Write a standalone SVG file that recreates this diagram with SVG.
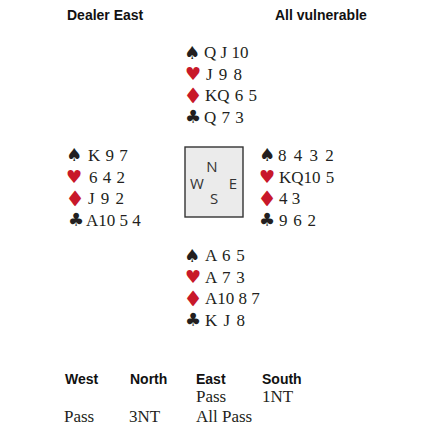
<svg xmlns="http://www.w3.org/2000/svg" width="440" height="440" viewBox="0 0 440 440">
<style>
.hd{font-family:"Liberation Sans",Arial,sans-serif;font-weight:bold;font-size:14px;fill:#111}
.c{font-family:"Liberation Serif","Times New Roman",serif;font-size:17px;fill:#231f20}
.s{font-family:"DejaVu Sans",sans-serif;font-size:18px;text-anchor:middle}
.d{stroke:#c8182a;stroke-width:1.8;stroke-linejoin:miter}
.b{fill:#231f20}
.r{fill:#c8182a}
.cp{font-family:"Open Sans","DejaVu Sans",sans-serif;font-size:15px;fill:#333;text-anchor:middle}
</style>
<rect width="440" height="440" fill="#fff"/>
<g id="header">
<text class="hd" x="67" y="20">Dealer East</text>
<text class="hd" x="275" y="20">All vulnerable</text>
</g>
<g id="north">
<text class="s b" x="192" y="58.5">♠</text><text class="c" x="204" y="58">Q J 10</text>
<text class="s r" x="193" y="80">♥</text><text class="c" x="206" y="79.5" word-spacing="2">J 9 8</text>
<text class="s d r" x="193" y="101.5">♦</text><text class="c" x="205" y="101" word-spacing="1">KQ 6 5</text>
<text class="s b" x="193" y="123">♣</text><text class="c" x="204" y="122.5" word-spacing="1">Q 7 3</text>
</g>
<g id="west">
<text class="s b" x="74" y="161">♠</text><text class="c" x="88" y="160.5" word-spacing="1">K 9 7</text>
<text class="s r" x="74" y="183">♥</text><text class="c" x="89" y="182.5" word-spacing="1">6 4 2</text>
<text class="s d r" x="75" y="204.5">♦</text><text class="c" x="88" y="204" word-spacing="2">J 9 2</text>
<text class="s b" x="76" y="226">♣</text><text class="c" x="86" y="225.5">A10 5 4</text>
</g>
<g id="compass">
<rect x="185" y="147" width="58" height="70" fill="#ebebeb" stroke="#333" stroke-width="1.4"/>
<text class="cp" x="212" y="172">N</text>
<text class="cp" x="197" y="188.5">W</text>
<text class="cp" x="233" y="188.5">E</text>
<text class="cp" x="214" y="203.5">S</text>
</g>
<g id="east">
<text class="s b" x="267" y="161">♠</text><text class="c" x="278" y="160.5" word-spacing="3">8 4 3 2</text>
<text class="s r" x="267" y="183">♥</text><text class="c" x="279" y="182.5" word-spacing="1">KQ10 5</text>
<text class="s d r" x="267" y="204.5">♦</text><text class="c" x="279" y="204">4 3</text>
<text class="s b" x="267" y="226">♣</text><text class="c" x="279" y="225.5" word-spacing="1.5">9 6 2</text>
</g>
<g id="south">
<text class="s b" x="192" y="261.5">♠</text><text class="c" x="205" y="261" word-spacing="1.5">A 6 5</text>
<text class="s r" x="193" y="283">♥</text><text class="c" x="205" y="282.5" word-spacing="1.5">A 7 3</text>
<text class="s d r" x="193" y="304.5">♦</text><text class="c" x="205" y="304">A10 8 7</text>
<text class="s b" x="193" y="326">♣</text><text class="c" x="205" y="325.5" word-spacing="2">K J 8</text>
</g>
<g id="auction">
<text class="hd" x="65" y="384">West</text>
<text class="hd" x="130" y="384">North</text>
<text class="hd" x="196" y="384">East</text>
<text class="hd" x="262" y="384">South</text>
<text class="c" x="196" y="402">Pass</text>
<text class="c" x="262" y="402">1NT</text>
<text class="c" x="64" y="422">Pass</text>
<text class="c" x="129" y="422">3NT</text>
<text class="c" x="196" y="422">All Pass</text>
</g>
</svg>
